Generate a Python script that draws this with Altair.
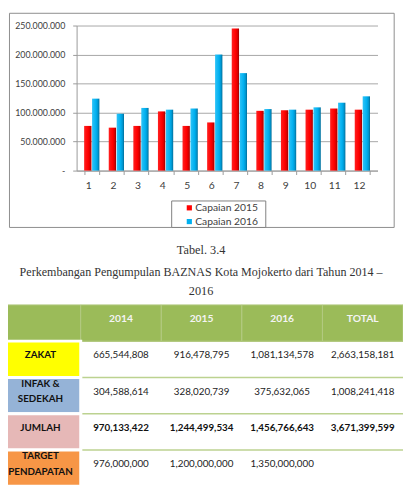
import altair as alt
import pandas as pd

# ---------------- data ----------------
months = [str(m) for m in range(1, 13)]
series = ["Capaian 2015", "Capaian 2016"]
capaian_2015 = [77, 74, 77, 102, 77, 83, 245, 103, 104, 105, 107, 105]   # in millions
capaian_2016 = [124, 98, 108, 105, 107, 200, 168, 106, 105, 109, 117, 128]
y_ticks = [0, 50000000, 100000000, 150000000, 200000000, 250000000]

caption_lines = ["Tabel. 3.4",
                 "Perkembangan Pengumpulan BAZNAS Kota Mojokerto dari Tahun 2014 –",
                 "2016"]

table_cols = ["label", "2014", "2015", "2016", "TOTAL"]
header_texts = ["", "2014", "2015", "2016", "TOTAL"]
row_keys = ["head", "ZAKAT", "INFAK", "JUMLAH", "TARGET"]
row_labels = [["ZAKAT"], ["INFAK &", "SEDEKAH"], ["JUMLAH"], ["TARGET", "PENDAPATAN"]]
zakat = [665544808, 916478795, 1081134578, 2663158181]
infak = [304588614, 328020739, 375632065, 1008241418]
jumlah = [970133422, 1244499534, 1456766643, 3671399599]
target = [976000000, 1200000000, 1350000000]

# ---------------- frames ----------------
bars_df = pd.DataFrame(
    [{"month": m, "series": series[0], "value": v * 1e6} for m, v in zip(months, capaian_2015)]
    + [{"month": m, "series": series[1], "value": v * 1e6} for m, v in zip(months, capaian_2016)]
)
legend_df = pd.DataFrame({"series": series})
one_df = pd.DataFrame({"k": [0]})
header_df = pd.DataFrame({"col": table_cols, "row": "head", "text": header_texts})
cell_df = pd.DataFrame({"col": "label", "row": row_keys[1:]})
lab = []
for rk, lines in zip(row_keys[1:], row_labels):
    if len(lines) == 1:
        lab.append({"col": "label", "row": rk, "line": "only", "text": lines[0]})
    else:
        lab.append({"col": "label", "row": rk, "line": "first", "text": lines[0]})
        lab.append({"col": "label", "row": rk, "line": "second", "text": lines[1]})
label_df = pd.DataFrame(lab)
vals = []
for rk, arr in zip(row_keys[1:], [zakat, infak, jumlah, target]):
    for c, v in zip(table_cols[1:], arr):
        vals.append({"row": rk, "col": c, "value": v})
vals_df = pd.DataFrame(vals)

W, H = 403, 483
FONT = "Lato"
AX = "#9a9a9a"

# ---------------- chart part ----------------
frame = alt.Chart(one_df).mark_rect(fillOpacity=0, stroke="#8c8c8c", strokeWidth=1).encode(
    x=alt.value(1.5), x2=alt.value(394), y=alt.value(0.5), y2=alt.value(219)
)

color_scale = alt.Scale(domain=series, range=["#ff0000", "#00b0f0"])
bx = alt.Scale(domain=months, range=[70, 377], paddingInner=0.38, paddingOuter=0.306)
by = alt.Scale(domain=[0, 250000000], range=[161, 13], nice=False, zero=True)
xoff = alt.XOffset("series:N", sort=series, scale=alt.Scale(domain=series, paddingInner=0.08))

gradients = [
    alt.Gradient(gradient="linear", x1=0, x2=1, y1=0, y2=0,
                 stops=[alt.GradientStop(color="#ff2020", offset=0),
                        alt.GradientStop(color="#ff0000", offset=0.55),
                        alt.GradientStop(color="#d80000", offset=0.8),
                        alt.GradientStop(color="#9c0000", offset=1)]),
    alt.Gradient(gradient="linear", x1=0, x2=1, y1=0, y2=0,
                 stops=[alt.GradientStop(color="#2ec3f7", offset=0),
                        alt.GradientStop(color="#00b0f0", offset=0.55),
                        alt.GradientStop(color="#0096cf", offset=0.8),
                        alt.GradientStop(color="#006d99", offset=1)]),
]

bar_layers = []
for i, (s, grad) in enumerate(zip(series, gradients)):
    if i == 0:
        xaxis = alt.Axis(title=None, labelAngle=0, orient="bottom", offset=-(H - 161),
                         domainColor=AX, tickColor=AX, tickSize=4, tickBand="extent",
                         labelPadding=6, labelFontSize=10.5, labelColor="#404040",
                         labelFont=FONT, labelOffset=-3.5, grid=False)
        yaxis = alt.Axis(title=None, values=y_ticks, offset=-70, grid=True, gridColor="#a6a6a6",
                         domainColor=AX, tickColor=AX, tickSize=4, labelPadding=8,
                         labelFontSize=9, labelColor="#404040", labelFont=FONT,
                         labelExpr="datum.value == 0 ? '-' : format(datum.value / 1000000, 'd') + '.000.000'")
    else:
        xaxis = None
        yaxis = None
    bar_layers.append(
        alt.Chart(bars_df).transform_filter(f"datum.series == '{s}'").mark_bar(color=grad).encode(
            x=alt.X("month:N", sort=months, scale=bx, axis=xaxis),
            xOffset=xoff,
            y=alt.Y("value:Q", scale=by, axis=yaxis),
        )
    )

legend_box = alt.Chart(one_df).mark_rect(fill="white", stroke="#7f7f7f", strokeWidth=1).encode(
    x=alt.value(167), x2=alt.value(263), y=alt.value(192), y2=alt.value(219)
)
leg_y = alt.Scale(type="point", domain=series, range=[199, 213], padding=0)
legend_sym = alt.Chart(legend_df).mark_square(size=28, opacity=1).encode(
    x=alt.value(185),
    y=alt.Y("series:N", scale=leg_y, axis=None),
    color=alt.Color("series:N", scale=color_scale, legend=None),
)
legend_txt = alt.Chart(legend_df).mark_text(
    align="left", baseline="middle", font=FONT, fontSize=10.5, color="#404040"
).encode(
    x=alt.value(191),
    y=alt.Y("series:N", scale=leg_y, axis=None),
    text="series:N",
)

# ---------------- caption ----------------
cap_layers = []
for txt, yy, fs in zip(caption_lines, [242, 265, 284], [12.5, 12.3, 12.5]):
    cap_layers.append(
        alt.Chart(one_df).mark_text(
            font="Liberation Serif", fontSize=fs, color="#333333", baseline="middle", align="center"
        ).encode(x=alt.value(197), y=alt.value(yy), text=alt.value(txt))
    )

# ---------------- table ----------------
tx = alt.Scale(domain=table_cols, range=[-8, 403], paddingInner=0, paddingOuter=0)
ty = alt.Scale(domain=row_keys, range=[298, 483], paddingInner=0, paddingOuter=0)

head_rect = alt.Chart(header_df).mark_rect(fill="#9bbb59", stroke="#b3ca82", strokeWidth=1).encode(
    x=alt.X("col:N", scale=tx, axis=None),
    y=alt.Y("row:N", scale=ty, axis=None),
)
head_txt = alt.Chart(header_df).mark_text(
    font=FONT, fontWeight="bold", fontSize=10.5, color="#f4f4f4", dy=-4
).encode(
    x=alt.X("col:N", scale=tx, axis=None),
    y=alt.Y("row:N", scale=ty, axis=None),
    text="text:N",
)
sep = alt.Chart(cell_df).mark_rule(color="#bcd290", strokeWidth=1.5).encode(
    x=alt.value(-8), x2=alt.value(403),
    y=alt.Y("row:N", scale=ty, axis=None, bandPosition=0),
)
label_rect = alt.Chart(cell_df).mark_rect(stroke="white", strokeWidth=3).encode(
    x=alt.X("col:N", scale=tx, axis=None),
    y=alt.Y("row:N", scale=ty, axis=None),
    fill=alt.Fill("row:N", scale=alt.Scale(domain=row_keys[1:],
                  range=["#ffff00", "#95b3d7", "#e6b8b7", "#f79646"]), legend=None),
)
label_layers = []
for line_kind, ddy in [("only", -4), ("first", -12), ("second", 4)]:
    label_layers.append(
        alt.Chart(label_df).transform_filter(f"datum.line == '{line_kind}'").mark_text(
            font=FONT, fontWeight="bold", fontSize=10, color="#111111", baseline="middle", dy=ddy
        ).encode(
            x=alt.X("col:N", scale=tx, axis=None),
            y=alt.Y("row:N", scale=ty, axis=None),
            text="text:N",
        )
    )
val_txt = alt.Chart(vals_df).transform_filter("datum.row != 'JUMLAH'").mark_text(
    font=FONT, fontSize=10, color="#222222", dy=-4
).encode(
    x=alt.X("col:N", scale=tx, axis=None),
    y=alt.Y("row:N", scale=ty, axis=None),
    text=alt.Text("value:Q", format=","),
)
val_bold = alt.Chart(vals_df).transform_filter("datum.row == 'JUMLAH'").mark_text(
    font=FONT, fontWeight="bold", fontSize=10, color="#111111", dy=-4
).encode(
    x=alt.X("col:N", scale=tx, axis=None),
    y=alt.Y("row:N", scale=ty, axis=None),
    text=alt.Text("value:Q", format=","),
)

chart = alt.layer(
    frame, *bar_layers, legend_box, legend_sym, legend_txt, *cap_layers,
    sep, head_rect, head_txt, label_rect, *label_layers, val_txt, val_bold
).resolve_scale(
    x="independent", y="independent"
).properties(
    width=W, height=H, padding=0,
    autosize=alt.AutoSizeParams(type="none"),
    background="white",
).configure_view(strokeWidth=0)

chart.save("out.html", embed_options={"renderer": "svg", "actions": False})
